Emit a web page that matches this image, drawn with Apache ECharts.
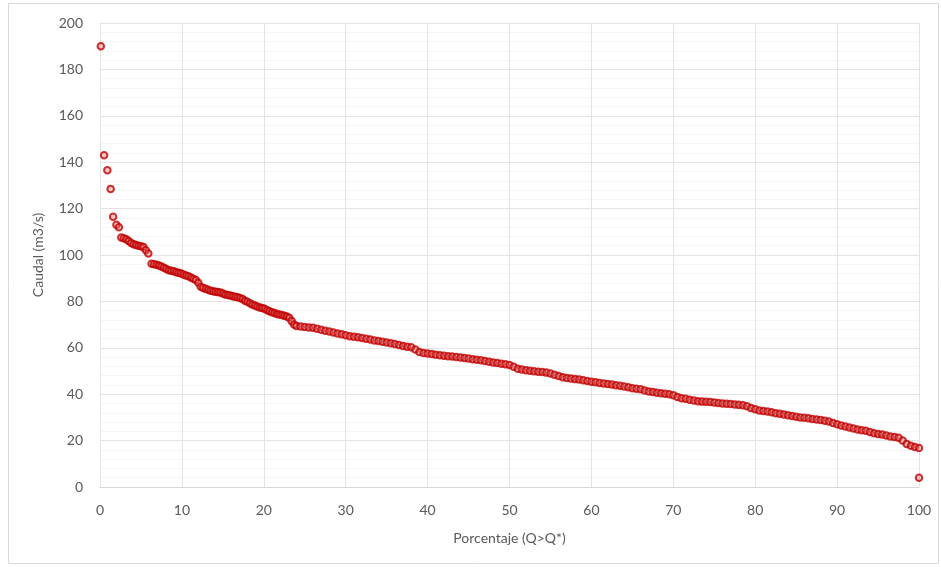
<!DOCTYPE html>
<html>
<head>
<meta charset="utf-8">
<script src="https://cdn.jsdelivr.net/npm/echarts@6/dist/echarts.min.js"></script>
<style>html,body{margin:0;padding:0;background:#fff;}#c{width:941px;height:567px;}</style>
</head>
<body>
<div id="c"></div>
<script>
// Percentage of time flow is exceeded (x) and flow values (y)
const headX = [0.1,0.5,0.9,1.3,1.6,2.0,2.3,2.6,2.9,3.2,3.5,3.8,4.1,4.4,4.7,5.0,5.3,5.6,5.9,6.3,6.6,6.9,7.2,7.5,7.8,8.1,8.4,8.7,9.0,9.3,9.6,9.9,10.2,10.5,10.8,11.1,11.4,11.7,12.0,12.3,12.6,12.9,13.2,13.5,13.8,14.1,14.4,14.7,15.0,15.3,15.6,15.9,16.2,16.5,16.8,17.1,17.4,17.7,18.0,18.3,18.6,18.9,19.2,19.5,19.8,20.1,20.4,20.7,21.0,21.3,21.6,21.9,22.2,22.5,22.8,23.1,23.4,23.7,24.0];
const headY = [190,143,136.5,128.5,116.5,113,112,107.5,107.2,106.8,106,105.2,104.6,104.3,104,103.8,103.5,102,100.6,96.2,96,95.8,95.5,95,94.5,94,93.4,93.2,93,92.6,92.3,92,91.6,91.2,90.8,90.3,89.8,89.2,88,86.3,85.8,85.4,85,84.6,84.4,84.2,84,83.8,83.4,83,82.8,82.5,82.2,82,81.8,81.5,81,80.3,79.8,79.2,78.7,78.2,77.8,77.4,77.2,76.8,76.2,75.8,75.3,75,74.6,74.4,74.1,73.8,73.5,73,71.5,70,69.4];
const tailX = [24.5,25,25.5,26,26.5,27,27.5,28,28.5,29,29.5,30,30.5,31,31.5,32,32.5,33,33.5,34,34.5,35,35.5,36,36.5,37,37.5,38,38.5,39,39.5,40,40.5,41,41.5,42,42.5,43,43.5,44,44.5,45,45.5,46,46.5,47,47.5,48,48.5,49,49.5,50,50.5,51,51.5,52,52.5,53,53.5,54,54.5,55,55.5,56,56.5,57,57.5,58,58.5,59,59.5,60,60.5,61,61.5,62,62.5,63,63.5,64,64.5,65,65.5,66,66.5,67,67.5,68,68.5,69,69.5,70,70.5,71,71.5,72,72.5,73,73.5,74,74.5,75,75.5,76,76.5,77,77.5,78,78.5,79,79.5,80,80.5,81,81.5,82,82.5,83,83.5,84,84.5,85,85.5,86,86.5,87,87.5,88,88.5,89,89.5,90,90.5,91,91.5,92,92.5,93,93.5,94,94.5,95,95.5,96,96.5,97,97.5,98,98.5,99,99.5,100,100];
const tailY = [69.2,69,68.8,68.6,68.2,67.8,67.4,67,66.6,66.2,65.8,65.4,65,64.8,64.5,64.2,63.9,63.6,63.2,62.9,62.6,62.3,62,61.6,61.2,60.8,60.5,60.2,59.3,58.2,57.8,57.5,57.3,57,56.8,56.6,56.4,56.2,56,55.8,55.6,55.4,55.1,54.9,54.6,54.3,54,53.7,53.4,53.1,52.9,52.6,51.8,51,50.6,50.3,50.1,49.9,49.7,49.6,49.3,48.9,48.4,47.8,47.3,47,46.8,46.5,46.3,46,45.7,45.4,45.1,44.8,44.6,44.4,44.2,43.9,43.6,43.3,43,42.6,42.3,42.1,41.6,41.2,40.9,40.6,40.4,40.2,40,39.6,38.8,38.3,38,37.6,37.3,37,36.8,36.7,36.6,36.4,36.2,36,35.9,35.8,35.6,35.4,35.2,34.8,34,33.5,33,32.8,32.5,32.2,31.8,31.6,31.2,30.9,30.6,30.3,30,29.8,29.6,29.3,29.1,28.9,28.6,28.2,27.6,27,26.5,26.1,25.6,25.2,24.8,24.5,24.2,23.7,23.2,22.8,22.6,22.2,21.8,21.6,21.2,20,18.5,17.8,17.2,16.8,4];
const xTicks = [0,10,20,30,40,50,60,70,80,90,100];
const yTicks = [0,20,40,60,80,100,120,140,160,180,200];
const xTitle = 'Porcentaje (Q>Q*)';
const yTitle = 'Caudal (m3/s)';

const xs = headX.concat(tailX);
const ys = headY.concat(tailY);
const data = xs.map((x, i) => [x, ys[i]]);

const chart = echarts.init(document.getElementById('c'));
const font = 'Lato, "Liberation Sans", sans-serif';
chart.setOption({
  animation: false,
  backgroundColor: '#fff',
  graphic: [{
    type: 'rect', shape: {x: 8.5, y: 3.5, width: 930, height: 560},
    style: {fill: 'none', stroke: '#d9d9d9', lineWidth: 1}, silent: true, z: -10
  }],
  grid: {left: 100, right: 22, top: 23, bottom: 80},
  xAxis: {
    type: 'value', min: xTicks[0], max: xTicks[xTicks.length - 1], interval: 10,
    name: xTitle, nameLocation: 'middle', nameGap: 44,
    nameTextStyle: {color: '#595959', fontSize: 14, fontFamily: font},
    axisLine: {show: true, lineStyle: {color: '#d9d9d9'}},
    axisTick: {show: false},
    axisLabel: {color: '#595959', fontSize: 14, fontFamily: font, margin: 16},
    splitLine: {show: true, lineStyle: {color: '#e3e3e3'}}
  },
  yAxis: {
    type: 'value', min: yTicks[0], max: yTicks[yTicks.length - 1], interval: 20,
    name: yTitle, nameLocation: 'middle', nameGap: 55,
    nameTextStyle: {color: '#595959', fontSize: 14, fontFamily: font},
    axisLine: {show: true, lineStyle: {color: '#e3e3e3'}},
    axisTick: {show: false},
    axisLabel: {color: '#595959', fontSize: 14, fontFamily: font, margin: 17},
    splitLine: {show: true, lineStyle: {color: '#e3e3e3'}},
    minorTick: {show: false, splitNumber: 5},
    minorSplitLine: {show: true, lineStyle: {color: '#f5f5f5'}}
  },
  series: [{
    type: 'scatter',
    data: data,
    symbol: 'circle',
    symbolSize: 6.5,
    itemStyle: {color: 'rgba(235,120,120,0.5)', borderColor: '#c00000', borderWidth: 2}
  }]
});
</script>
</body>
</html>
